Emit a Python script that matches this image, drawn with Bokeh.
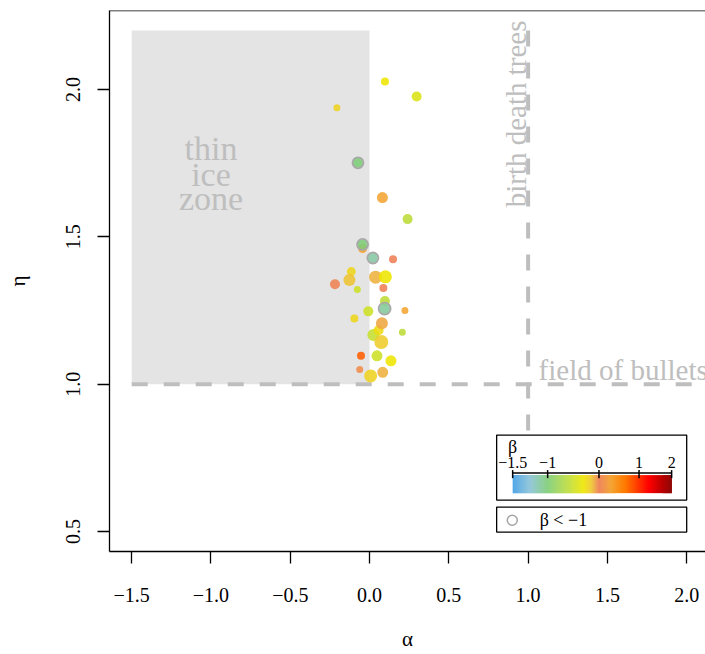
import numpy as np
from bokeh.plotting import figure
from bokeh.models import Range1d, Span, FixedTicker, ColumnDataSource
from bokeh.core.properties import value
from bokeh.embed import file_html
from bokeh.resources import INLINE

# ---------------- data ----------------
alpha = [0.097, 0.297, -0.206, -0.073, 0.081, 0.240, -0.044, -0.044, 0.021, 0.148,
         -0.115, -0.127, -0.218, 0.038, 0.100, -0.077, 0.087, 0.097, 0.095, 0.223,
         -0.008, -0.096, 0.024, 0.057, 0.078, 0.074, 0.207, 0.047, -0.054, 0.135,
         -0.062, 0.083, 0.007]
eta = [2.027, 1.976, 1.938, 1.751, 1.633, 1.560, 1.460, 1.474, 1.428, 1.424,
       1.382, 1.353, 1.339, 1.363, 1.364, 1.321, 1.326, 1.282, 1.256, 1.250,
       1.247, 1.223, 1.167, 1.183, 1.207, 1.143, 1.176, 1.096, 1.096, 1.079,
       1.050, 1.040, 1.028]
beta = [-0.30, -0.42, -0.20, -1.005, 0.30, -0.60, 0.32, -1.01, -1.12, 0.0,
        -0.22, -0.14, 0.02, -0.10, -0.30, -0.50, 0.0, -0.60, -1.10, 0.30,
        -0.50, -0.22, -0.55, -0.25, -0.08, -0.17, -0.60, -0.50, 0.80, -0.30,
        0.10, -0.10, -0.20]
weight = [8, 10, 7, 10, 11, 10, 9, 10, 10, 8,
          9, 12, 10, 13, 13, 7, 8, 10, 11, 7,
          10, 8, 12, 10, 12, 14, 7, 11, 8, 11,
          7, 11, 13]

x_ticks = [-1.5, -1.0, -0.5, 0.0, 0.5, 1.0, 1.5, 2.0]
x_tick_labels = ["\u22121.5", "\u22121.0", "\u22120.5", "0.0", "0.5", "1.0", "1.5", "2.0"]
y_ticks = [0.5, 1.0, 1.5, 2.0]
y_tick_labels = ["0.5", "1.0", "1.5", "2.0"]

cbar_ticks = [-1.5, -1.0, 0.0, 1.0, 2.0]
cbar_tick_labels = ["\u22121.5", "\u22121", "0", "1", "2"]
cbar_tick_pos = [0.0, 0.22, 0.543, 0.795, 1.0]

cmap_beta = [-1.5, -1.25, -1.0, -0.6, -0.3, -0.15, 0.0, 0.3, 0.65, 1.0, 1.3, 2.0]
cmap_cols = ["#4FA6E8", "#8DC4D8", "#7CCC74", "#BCDC38", "#EEE600", "#EEC830",
             "#EE8055", "#F4A432", "#FF7A00", "#FF3300", "#FF0000", "#8B0000"]

# ---------------- helpers ----------------
def hex2rgb(h):
    h = h.lstrip("#")
    return [int(h[i:i + 2], 16) for i in (0, 2, 4)]

_rgb = np.array([hex2rgb(c) for c in cmap_cols], dtype=float)

def beta_color(b):
    b = min(max(b, cmap_beta[0]), cmap_beta[-1])
    r = np.interp(b, cmap_beta, _rgb[:, 0])
    g = np.interp(b, cmap_beta, _rgb[:, 1])
    bl = np.interp(b, cmap_beta, _rgb[:, 2])
    return "#%02X%02X%02X" % (int(round(r)), int(round(g)), int(round(bl)))

SERIF = value("Liberation Serif")
GRAY_TXT = "#BEBEBE"

# ---------------- figure ----------------
x0, x1 = -1.64, 2.1186
y0, y1 = 0.432, 2.268
p = figure(width=705, height=654, x_range=Range1d(x0, x1), y_range=Range1d(y0, y1),
           output_backend="svg", toolbar_location=None,
           min_border_left=109, min_border_right=0, min_border_top=10, min_border_bottom=103)
p.grid.visible = False
p.outline_line_color = None
p.background_fill_color = "white"
p.border_fill_color = "white"

for ax in (p.xaxis[0], p.yaxis[0]):
    ax.major_tick_out = 12
    ax.major_tick_in = 0
    ax.minor_tick_line_color = None
    ax.axis_line_width = 1.3
    ax.major_tick_line_width = 1.3
    ax.axis_line_color = "black"
    ax.major_tick_line_color = "black"
    ax.major_label_text_font = "Liberation Serif"
    ax.major_label_text_font_size = "20px"
    ax.major_label_text_color = "black"
    ax.axis_label_text_font = "Liberation Serif"
    ax.axis_label_text_font_size = "21px"
    ax.axis_label_text_font_style = "normal"
    ax.axis_label_text_color = "black"

p.xaxis.ticker = FixedTicker(ticks=x_ticks)
p.xaxis.major_label_overrides = dict(zip(x_ticks, x_tick_labels))
p.xaxis.major_label_standoff = 24
p.xaxis.axis_label = "\u03b1"
p.xaxis.axis_label_standoff = 22

p.yaxis.ticker = FixedTicker(ticks=y_ticks)
p.yaxis.major_label_overrides = dict(zip(y_ticks, y_tick_labels))
p.yaxis.major_label_orientation = "vertical"
p.yaxis.major_label_standoff = 17
p.yaxis.axis_label = "\u03b7"
p.yaxis.axis_label_standoff = 34

p.add_layout(Span(location=y1, dimension="width", line_color="black", line_width=1.3))

# thin ice zone
p.quad(left=[-1.5], right=[0.0], bottom=[1.0], top=[2.2], fill_color="#E4E4E4", line_color=None)

# dashed guide lines
p.segment(x0=[-1.5, 1.0], y0=[1.0, 2.2], x1=[2.3, 1.0], y1=[1.0, 0.5],
          line_color=GRAY_TXT, line_width=4, line_dash="16 16")

# zone annotations
p.text(x=[-1.0, -1.0, -1.0], y=[1.801, 1.712, 1.631], text=["thin", "ice", "zone"],
       text_font=SERIF, text_font_size=value("34px"), text_color=GRAY_TXT,
       text_align="center", text_baseline="alphabetic")
p.text(x=[0.922], y=[1.60], text=["birth death trees"], angle=np.pi / 2,
       text_font=SERIF, text_font_size=value("29px"), text_color=GRAY_TXT,
       text_align="left", text_baseline="alphabetic")
p.text(x=[1.066], y=[1.047], text=["field of bullets"],
       text_font=SERIF, text_font_size=value("29px"), text_color=GRAY_TXT,
       text_align="left", text_baseline="alphabetic")

# points
src = ColumnDataSource(dict(alpha=alpha, eta=eta, beta=beta, size=weight,
                            color=[beta_color(b) for b in beta]))
p.scatter(x="alpha", y="eta", size="size", fill_color="color", fill_alpha=0.88,
          line_color=None, source=src)
neg = [i for i, b in enumerate(beta) if b < -1]
src_neg = ColumnDataSource(dict(alpha=[alpha[i] for i in neg], eta=[eta[i] for i in neg],
                                size=[weight[i] + 1 for i in neg]))
p.scatter(x="alpha", y="eta", size="size", fill_color=None, line_color="#A8A8A8",
          line_width=1.8, source=src_neg)

# legend boxes
p.quad(left=[0.8015, 0.8015], right=[2.0, 2.0], bottom=[0.6064, 0.4978], top=[0.827, 0.5826],
       fill_color="white", line_color="black", line_width=1.3)

# color bar
bx0, bx1 = 0.9025, 1.905
by0, by1 = 0.6301, 0.6912
N = 160
edges = np.linspace(0, 1, N + 1)
mids = (edges[:-1] + edges[1:]) / 2
mid_beta = np.interp(mids, cbar_tick_pos, cbar_ticks)
p.quad(left=bx0 + edges[:-1] * (bx1 - bx0), right=bx0 + edges[1:] * (bx1 - bx0) + 0.002,
       bottom=by0, top=by1, fill_color=[beta_color(b) for b in mid_beta], line_color=None)
tick_x = [bx0 + f * (bx1 - bx0) for f in cbar_tick_pos]
p.segment(x0=[bx0], y0=[0.6981], x1=[bx1], y1=[0.6981], line_color="black", line_width=1.5)
p.segment(x0=tick_x, y0=[0.7082] * len(tick_x), x1=tick_x, y1=[0.681] * len(tick_x),
          line_color="black", line_width=1.5)
p.text(x=tick_x, y=[0.7353] * len(tick_x), text=cbar_tick_labels, text_font=SERIF,
       text_font_size=value("16px"), text_color="black", text_align="center",
       text_baseline="middle")
p.text(x=[bx0], y=[0.785], text=["\u03b2"], text_font=SERIF, text_font_size=value("18px"),
       text_color="black", text_align="center", text_baseline="middle")

# second legend entry
p.scatter(x=[0.90], y=[0.538], size=[10], fill_color=None, line_color="#A4A4A4", line_width=1.5)
p.text(x=[1.073], y=[0.538], text=["\u03b2 < \u22121"], text_font=SERIF,
       text_font_size=value("18px"), text_color="black", text_align="left",
       text_baseline="middle")

open("out.html", "w").write(file_html(p, INLINE))
